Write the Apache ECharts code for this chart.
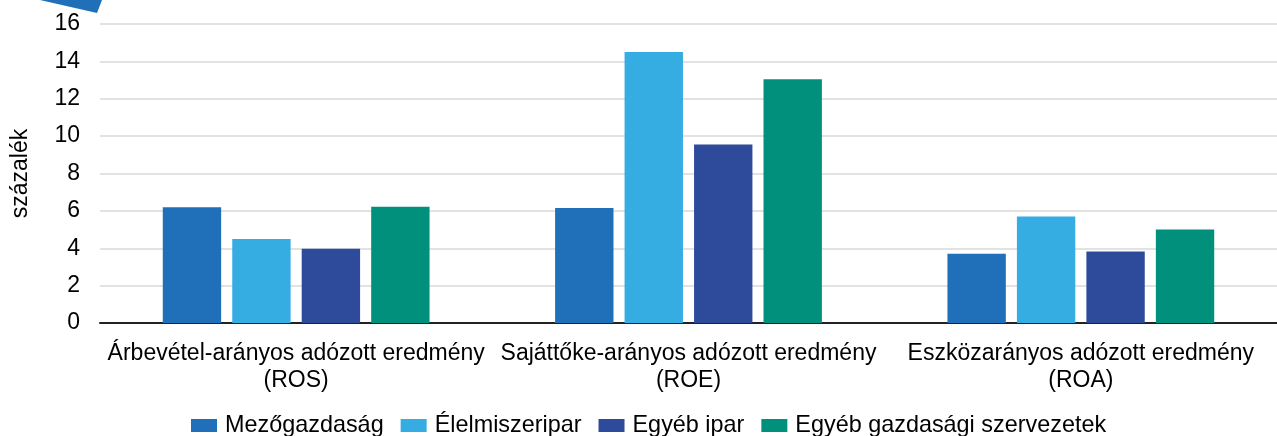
<!DOCTYPE html>
<html><head><meta charset="utf-8">
<script src="https://cdn.jsdelivr.net/npm/echarts@6/dist/echarts.min.js"></script>
<style>html,body{margin:0;padding:0;background:#fff}#c{width:1277px;height:436px}</style>
</head><body><div id="c"></div>
<script>
const categories = ['Árbevétel-arányos adózott eredmény\n(ROS)', 'Sajáttőke-arányos adózott eredmény\n(ROE)', 'Eszközarányos adózott eredmény\n(ROA)'];
const seriesNames = ['Mezőgazdaság', 'Élelmiszeripar', 'Egyéb ipar', 'Egyéb gazdasági szervezetek'];
const mezogazdasag = [6.2, 6.15, 3.7];
const elelmiszeripar = [4.5, 14.5, 5.7];
const egyebIpar = [3.97, 9.55, 3.82];
const egyebGazd = [6.22, 13.05, 5.0];
const yTicks = [0, 2, 4, 6, 8, 10, 12, 14, 16];
const colors = ['#1F70B8', '#35ACE2', '#2E4B9B', '#00907B'];
const values = [mezogazdasag, elelmiszeripar, egyebIpar, egyebGazd];
const font = 'Liberation Sans, Arial, sans-serif';
const fs = 23;
const chart = echarts.init(document.getElementById('c'), null, {renderer: 'canvas'});
chart.setOption({
  animation: false,
  color: colors,
  graphic: [{type: 'polygon', shape: {points: [[40, 0], [102, 0], [97, 13]]}, style: {fill: '#1F70B8'}}],
  grid: {left: 100, right: 0, top: 24, bottom: 113, containLabel: false, outerBoundsMode: 'none'},
  legend: {
    bottom: -6, left: 186, itemWidth: 26, itemHeight: 13, itemGap: 17,
    icon: 'rect',
    textStyle: {fontFamily: font, fontSize: 23.4, color: '#000', padding: [0, 0, 0, 3]},
    data: seriesNames
  },
  xAxis: {
    type: 'category', data: categories,
    axisLine: {lineStyle: {color: '#222', width: 2}},
    axisTick: {show: false},
    axisLabel: {fontFamily: font, fontSize: fs, color: '#000', lineHeight: 27, margin: 17, interval: 0}
  },
  yAxis: {
    type: 'value', min: 0, max: 16, interval: 2,
    name: 'százalék', nameLocation: 'middle', nameGap: 68, nameRotate: 90,
    nameTextStyle: {fontFamily: font, fontSize: fs, color: '#000'},
    axisLine: {show: false}, axisTick: {show: false},
    axisLabel: {fontFamily: font, fontSize: fs, color: '#000', margin: 20,
      formatter: v => yTicks.includes(v) ? String(v) : ''},
    splitLine: {lineStyle: {color: '#D9D9D9', width: 1.5}}
  },
  series: seriesNames.map((n, i) => ({
    name: n, type: 'bar', data: values[i],
    barGap: '19%', barCategoryGap: '32%',
    itemStyle: {color: colors[i]}
  }))
});
</script></body></html>
